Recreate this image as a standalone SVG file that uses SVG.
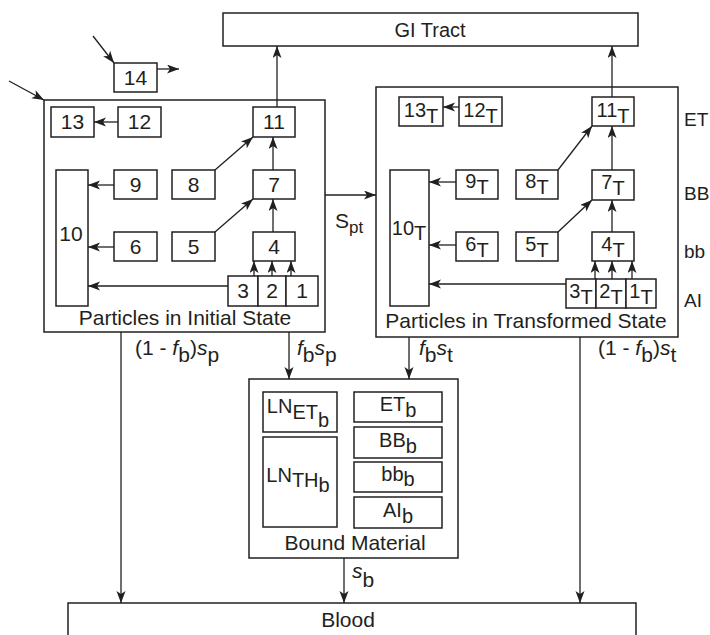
<svg xmlns="http://www.w3.org/2000/svg" width="710" height="635" viewBox="0 0 710 635">
<style>
rect{fill:#fff;stroke:#231f20;stroke-width:1.5}
rect.bg{stroke:none}
line{stroke:#231f20;stroke-width:1.3;marker-end:url(#ah)}
text{font-family:"Liberation Sans",Arial,sans-serif;font-size:20px;fill:#231f20;text-anchor:middle}
text.num{font-size:21px}
text.lab{font-size:21px}
text.st{text-anchor:start;font-size:21px}
text.reg{text-anchor:start;font-size:19px}
</style>
<defs>
<marker id="ah" markerUnits="userSpaceOnUse" markerWidth="13" markerHeight="10" refX="12" refY="4.5" orient="auto">
<path d="M0,0 L12,4.5 L0,9 L3,4.5 z" fill="#231f20"/>
</marker>
</defs>
<rect class="bg" width="710" height="635"/>

<g id="gi"><rect x="223" y="13" width="415" height="33"/><text x="430" y="37">GI Tract</text></g>
<g id="blood"><rect x="68" y="603" width="568" height="50"/><text class="lab" x="348" y="627">Blood</text></g>
<g id="n14"><rect x="114" y="63" width="43" height="29"/><text class="num" x="135.5" y="85">14</text></g>

<g id="initial">
<rect x="44" y="100" width="281" height="232"/>
<text class="lab" x="185" y="325">Particles in Initial State</text>
</g>
<g id="n13"><rect x="51" y="107" width="43" height="30"/><text class="num" x="72.5" y="129">13</text></g>
<g id="n12"><rect x="118" y="107" width="43" height="30"/><text class="num" x="139.5" y="129">12</text></g>
<g id="n11"><rect x="253" y="107" width="42" height="30"/><text class="num" x="274" y="129">11</text></g>
<g id="n9"><rect x="114" y="170" width="43" height="29"/><text class="num" x="135.5" y="192">9</text></g>
<g id="n8"><rect x="172" y="170" width="43" height="29"/><text class="num" x="193.5" y="192">8</text></g>
<g id="n7"><rect x="253" y="170" width="42" height="29"/><text class="num" x="274" y="192">7</text></g>
<g id="n10"><rect x="56" y="170" width="32" height="136"/><text class="num" x="71" y="241">10</text></g>
<g id="n6"><rect x="114" y="232" width="43" height="29"/><text class="num" x="135.5" y="254">6</text></g>
<g id="n5"><rect x="172" y="232" width="43" height="29"/><text class="num" x="193.5" y="254">5</text></g>
<g id="n4"><rect x="253" y="232" width="42" height="29"/><text class="num" x="274" y="254">4</text></g>
<g id="n3"><rect x="228" y="276" width="30" height="30"/><text class="num" x="243" y="298">3</text></g>
<g id="n2"><rect x="258" y="276" width="28" height="30"/><text class="num" x="272" y="298">2</text></g>
<g id="n1"><rect x="286" y="276" width="32" height="30"/><text class="num" x="302" y="298">1</text></g>

<g id="transformed">
<rect x="376" y="87" width="302" height="250"/>
<text class="lab" x="526" y="328">Particles in Transformed State</text>
</g>
<g id="t13"><rect x="399" y="97" width="44" height="29"/><text x="421" y="117">13<tspan dy="6">T</tspan></text></g>
<g id="t12"><rect x="459" y="97" width="43" height="29"/><text x="480.5" y="117">12<tspan dy="6">T</tspan></text></g>
<g id="t11"><rect x="592" y="97" width="42" height="29"/><text x="613" y="117">11<tspan dy="6">T</tspan></text></g>
<g id="t9"><rect x="456" y="170" width="42" height="29"/><text x="477" y="188">9<tspan dy="6">T</tspan></text></g>
<g id="t8"><rect x="516" y="170" width="42" height="29"/><text x="537" y="188">8<tspan dy="6">T</tspan></text></g>
<g id="t7"><rect x="592" y="170" width="42" height="30"/><text x="613" y="189">7<tspan dy="6">T</tspan></text></g>
<g id="t10"><rect x="390" y="170" width="39" height="136"/><text x="409" y="235">10<tspan dy="5">T</tspan></text></g>
<g id="t6"><rect x="456" y="232" width="42" height="29"/><text x="477" y="251">6<tspan dy="6">T</tspan></text></g>
<g id="t5"><rect x="516" y="232" width="42" height="29"/><text x="537" y="251">5<tspan dy="6">T</tspan></text></g>
<g id="t4"><rect x="592" y="232" width="42" height="29"/><text x="613" y="251">4<tspan dy="6">T</tspan></text></g>
<g id="t3"><rect x="566" y="279" width="30" height="29"/><text x="581" y="298">3<tspan dy="6">T</tspan></text></g>
<g id="t2"><rect x="596" y="279" width="30" height="29"/><text x="611" y="298">2<tspan dy="6">T</tspan></text></g>
<g id="t1"><rect x="626" y="279" width="30" height="29"/><text x="641" y="298">1<tspan dy="6">T</tspan></text></g>

<g id="regions">
<text class="reg" x="684" y="126">ET</text>
<text class="reg" x="684" y="200">BB</text>
<text class="reg" x="684" y="258">bb</text>
<text class="reg" x="684" y="307">AI</text>
</g>

<g id="bound">
<rect x="249" y="379" width="209" height="179"/>
<text class="lab" x="355" y="550">Bound Material</text>
</g>
<g id="lnet"><rect x="263" y="392" width="74" height="40"/><text x="298" y="413">LN<tspan dy="6">ET</tspan><tspan dy="8">b</tspan></text></g>
<g id="lnth"><rect x="263" y="437" width="74" height="90"/><text x="298" y="482">LN<tspan dy="5">TH</tspan><tspan dy="5">b</tspan></text></g>
<g id="etb"><rect x="354" y="392" width="88" height="30"/><text x="398" y="411">ET<tspan dy="6">b</tspan></text></g>
<g id="bbb"><rect x="354" y="427" width="88" height="31"/><text x="398" y="447">BB<tspan dy="6">b</tspan></text></g>
<g id="bbl"><rect x="354" y="462" width="88" height="30"/><text x="398" y="481">bb<tspan dy="5">b</tspan></text></g>
<g id="aib"><rect x="354" y="497" width="88" height="31"/><text x="398" y="517">AI<tspan dy="6">b</tspan></text></g>

<g id="connectors">
<line x1="93" y1="36" x2="114" y2="63"/>
<line x1="157" y1="69" x2="179" y2="69"/>
<line x1="9" y1="81" x2="44" y2="100"/>
<line x1="118" y1="122" x2="94" y2="122"/>
<line x1="277" y1="107" x2="277" y2="46"/>
<line x1="273" y1="170" x2="273" y2="137"/>
<line x1="215" y1="170" x2="253" y2="137"/>
<line x1="114" y1="185" x2="88" y2="185"/>
<line x1="114" y1="247" x2="88" y2="247"/>
<line x1="215" y1="232" x2="253" y2="199"/>
<line x1="273" y1="232" x2="273" y2="199"/>
<line x1="254" y1="276" x2="254" y2="261"/>
<line x1="272" y1="276" x2="272" y2="261"/>
<line x1="291" y1="276" x2="291" y2="261"/>
<line x1="228" y1="286" x2="88" y2="286"/>
<line x1="325" y1="195" x2="376" y2="195"/>
<line x1="459" y1="107" x2="443" y2="107"/>
<line x1="612" y1="97" x2="612" y2="46"/>
<line x1="612" y1="170" x2="612" y2="126"/>
<line x1="558" y1="170" x2="592" y2="126"/>
<line x1="456" y1="182" x2="429" y2="182"/>
<line x1="456" y1="245" x2="429" y2="245"/>
<line x1="558" y1="232" x2="592" y2="200"/>
<line x1="612" y1="232" x2="612" y2="200"/>
<line x1="595" y1="279" x2="595" y2="261"/>
<line x1="612" y1="279" x2="612" y2="261"/>
<line x1="632" y1="279" x2="632" y2="261"/>
<line x1="566" y1="284" x2="429" y2="284"/>
<line x1="121" y1="332" x2="121" y2="603"/>
<line x1="289" y1="332" x2="289" y2="379"/>
<line x1="409" y1="337" x2="409" y2="379"/>
<line x1="580" y1="337" x2="580" y2="603"/>
<line x1="344" y1="558" x2="344" y2="603"/>
</g>

<g id="labels">
<text class="st" x="335" y="228">S<tspan font-size="17" dy="5">pt</tspan></text>
<text class="st" x="135" y="355">(1 - <tspan font-style="italic">f</tspan><tspan dy="7">b</tspan><tspan dy="-7">)</tspan><tspan font-style="italic">s</tspan><tspan dy="7">p</tspan></text>
<text class="st" x="297" y="355"><tspan font-style="italic">f</tspan><tspan dy="7">b</tspan><tspan dy="-7" font-style="italic">s</tspan><tspan dy="7">p</tspan></text>
<text class="st" x="419" y="355"><tspan font-style="italic">f</tspan><tspan dy="7">b</tspan><tspan dy="-7" font-style="italic">s</tspan><tspan dy="7">t</tspan></text>
<text class="st" x="598" y="355">(1 - <tspan font-style="italic">f</tspan><tspan dy="7">b</tspan><tspan dy="-7">)</tspan><tspan font-style="italic">s</tspan><tspan dy="7">t</tspan></text>
<text class="st" x="352" y="578"><tspan font-style="italic">s</tspan><tspan dy="9">b</tspan></text>
</g>
</svg>
